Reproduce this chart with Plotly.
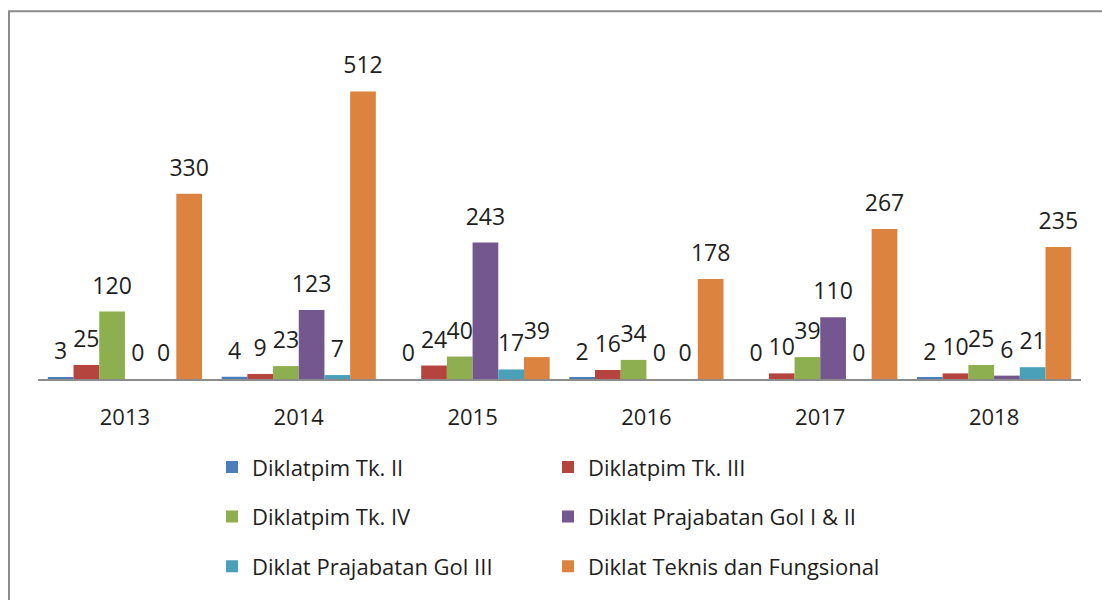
import plotly.graph_objects as go

years = ["2013", "2014", "2015", "2016", "2017", "2018"]
series_names = [
    "Diklatpim Tk. II",
    "Diklatpim Tk. III",
    "Diklatpim Tk. IV",
    "Diklat Prajabatan Gol I & II",
    "Diklat Prajabatan Gol III",
    "Diklat Teknis dan Fungsional",
]
tk2 = [3, 4, 0, 2, 0, 2]
tk3 = [25, 9, 24, 16, 10, 10]
tk4 = [120, 23, 40, 34, 39, 25]
praja12 = [0, 123, 243, 0, 110, 6]
praja3 = [0, 7, 17, 0, 0, 21]
teknis = [330, 512, 39, 178, 267, 235]
series_values = [tk2, tk3, tk4, praja12, praja3, teknis]
colors = ["#4A7EBB", "#B5443F", "#8DAF4F", "#74578F", "#4A9FB9", "#DC843F"]
legend_ids = ["legend", "legend", "legend2", "legend2", "legend3", "legend3"]

FONT = "Open Sans"
TXT = "#1e1e1e"
BARGAP = 0.113

fig = go.Figure()
for name, vals, col, lg in zip(series_names, series_values, colors, legend_ids):
    fig.add_trace(go.Bar(
        x=years, y=vals, name=name, marker=dict(color=col, line=dict(width=0)),
        legend=lg, hoverinfo="skip",
    ))
for name, vals in zip(series_names, series_values):
    fig.add_trace(go.Scatter(
        x=years, y=vals, mode="markers+text", text=[str(v) for v in vals],
        textposition="top center",
        textfont=dict(family=FONT, size=23, color=TXT),
        marker=dict(size=18, color="rgba(0,0,0,0)"),
        showlegend=False, hoverinfo="skip", cliponaxis=False,
    ))

L, T, R = 38, 42, 21
plot_h = 340
fig.update_layout(
    width=1102, height=600,
    margin=dict(l=L, r=R, t=T, b=600 - T - plot_h),
    paper_bgcolor="white", plot_bgcolor="white",
    barmode="group", bargap=BARGAP, bargroupgap=0,
    scattermode="group", scattergap=BARGAP,
    showlegend=True,
    font=dict(family=FONT, color=TXT),
    xaxis=dict(
        type="category", showline=True, linecolor="#8c8c8c", linewidth=2,
        showgrid=False, zeroline=False, ticks="", ticklabelstandoff=18,
        tickfont=dict(family=FONT, size=22, color=TXT),
    ),
    yaxis=dict(visible=False, range=[0, 600], showgrid=False, zeroline=False),
)

pw = 1102 - L - R
def px_to_paper_x(px):
    return (px - L) / pw
def py_to_paper_y(py):
    return (T + plot_h - py) / plot_h

leg_common = dict(
    orientation="h", xanchor="left", yanchor="middle",
    entrywidth=291, entrywidthmode="pixels",
    font=dict(family=FONT, size=22, color=TXT),
    bgcolor="rgba(0,0,0,0)", borderwidth=0, itemclick=False, itemdoubleclick=False,
)
fig.update_layout(
    legend=dict(x=px_to_paper_x(212), y=py_to_paper_y(471), **leg_common),
    legend2=dict(x=px_to_paper_x(212), y=py_to_paper_y(521), **leg_common),
    legend3=dict(x=px_to_paper_x(212), y=py_to_paper_y(571), **leg_common),
)

# chart frame (partially visible, as in the reference)
fig.add_shape(
    type="rect", xref="paper", yref="paper",
    x0=px_to_paper_x(9), x1=px_to_paper_x(1130),
    y0=py_to_paper_y(640), y1=py_to_paper_y(11),
    line=dict(color="#8c8c8c", width=2), fillcolor="rgba(0,0,0,0)", layer="below",
)

fig.write_html(
    "out.html",
    config={"displayModeBar": False},
    post_script="document.body.style.margin='0';document.body.style.overflow='hidden';",
)
